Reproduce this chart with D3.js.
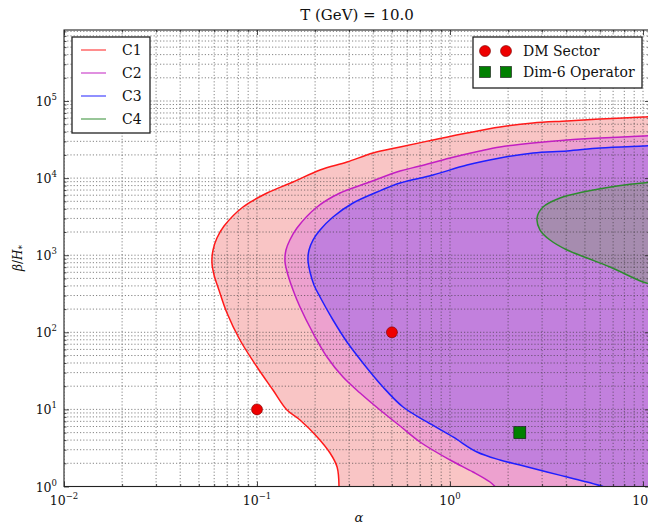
<!DOCTYPE html>
<html>
<head>
<meta charset="utf-8">
<script src="https://cdn.jsdelivr.net/npm/d3@7"></script>
<style>
  body { margin: 0; background: #fff; }
  svg { display: block; }
  text { font-family: "DejaVu Serif", "Liberation Serif", serif; fill: #111; }
</style>
</head>
<body>
<svg id="chart" width="648" height="530"></svg>
<script>
// ---- data -------------------------------------------------------------
const titleText = "T (GeV) = 10.0";
const xDomain = [0.01, 10.87];
const yDomain = [1, 8.34e5];
const xMajorTicks = [0.01, 0.1, 1, 10];
const xTickExponents = ["\u22122", "\u22121", "0", "1"];
const yMajorTicks = [1, 10, 100, 1000, 1e4, 1e5];
const yTickExponents = ["0", "1", "2", "3", "4", "5"];

// contour boundaries, [alpha, beta/H*]
const contourC1 = [[0.266,1],[0.260,1.79],[0.239,2.72],[0.205,4.39],[0.167,7.29],[0.143,9.82],[0.121,17.85],
  [0.100,35.5],[0.0816,79.5],[0.0699,178],[0.0635,354],[0.0599,554],[0.0584,816],[0.0592,1168],[0.0620,1672],
  [0.0675,2391],[0.0846,4220],[0.1127,6410],[0.1537,8900],[0.2121,12740],[0.2925,16170],[0.399,21170],
  [0.551,25320],[0.816,31210],[1.225,38460],[1.815,46010],[2.69,51850],[4.04,55050],[5.99,58440],[10,62030],
  [11,63000]];
const contourC2 = [[1.711,1],[1.612,1.144],[1.316,1.542],[1.0,2.207],[0.699,3.777],[0.551,6.09],[0.434,9.82],
  [0.342,16.32],[0.279,26.3],[0.2305,47.8],[0.195,97.9],[0.167,213],[0.1537,354],[0.1447,554],[0.1397,816],
  [0.1413,1168],[0.148,1574],[0.1611,2253],[0.2046,4220],[0.269,6410],[0.3715,8640],[0.551,12360],[0.699,14350],
  [1.0,18230],[1.43,22470],[1.815,25320],[2.69,28530],[4.04,31210],[5.99,33130],[10,35160],[11,35500]];
const contourC3 = [[6.21,1],[5.13,1.144],[4.04,1.328],[3.18,1.542],[2.305,1.90],[1.815,2.207],[1.38,2.80],
  [1.036,4.39],[0.760,6.87],[0.571,10.74],[0.4495,19.52],[0.354,40.0],[0.2925,74.8],[0.2476,144.4],
  [0.2121,287],[0.1973,411],[0.1882,605],[0.1837,866],[0.186,1168],[0.195,1574],[0.2121,2122],[0.2476,3130],
  [0.3144,4754],[0.4184,6600],[0.551,8640],[0.816,10970],[1.225,14790],[1.815,18230],[2.69,21170],
  [4.04,22470],[5.99,24570],[10,26080],[11,26400]];
const contourC4 = [[11,8900],[10,8640],[7.33,7900],[4.89,6600],[3.715,5520],[3.033,4220],[2.824,3038],
  [2.927,2122],[3.298,1574],[4.04,1168],[5.13,920],[6.75,703],[10,449],[11,420]];

const contourNames = ["C1", "C2", "C3", "C4"];
const lineColors = ["#ff1a1a", "#c21fc2", "#1f1fff", "#2e8b2e"];
const fillColors = ["#f9c5c5", "#eda1cf", "#c281dd", "#a68caf"];

const dmSectorAlpha = [0.1, 0.5];
const dmSectorBeta = [10, 100];
const dim6Alpha = [2.3];
const dim6Beta = [5];

// ---- layout -----------------------------------------------------------
const plot = { left: 64, top: 30, right: 650, bottom: 486.5 };
const svg = d3.select("#chart");
const x = d3.scaleLog().domain(xDomain).range([plot.left, plot.right]);
const y = d3.scaleLog().domain(yDomain).range([plot.bottom, plot.top]);

function minorTicks(lo, hi) {
  const out = [];
  for (let e = Math.floor(Math.log10(lo)); e <= Math.ceil(Math.log10(hi)); e++)
    for (let m = 2; m <= 9; m++) {
      const v = m * Math.pow(10, e);
      if (v > lo && v < hi) out.push(v);
    }
  return out;
}
const xMinor = minorTicks(xDomain[0], xDomain[1]);
const yMinor = minorTicks(yDomain[0], yDomain[1]);

svg.append("defs").append("clipPath").attr("id", "plotClip")
  .append("rect").attr("x", plot.left).attr("y", plot.top)
  .attr("width", plot.right - plot.left).attr("height", plot.bottom - plot.top);

const area = svg.append("g").attr("clip-path", "url(#plotClip)");

const curve = d3.line().x(d => x(d[0])).y(d => y(d[1])).curve(d3.curveCatmullRom.alpha(0.5));
const contours = [contourC1, contourC2, contourC3, contourC4];

// filled regions: C1–C3 open towards the lower right, C4 closes on the right edge
contours.forEach((c, i) => {
  let d = curve(c);
  if (i < 3) d += `L${x(12)},${y(1) + 5}L${x(c[0][0])},${y(1) + 5}Z`;
  else d += "Z";
  area.append("path").attr("d", d).attr("fill", fillColors[i]).attr("stroke", "none");
});

// dotted grid, major and minor
const grid = area.append("g").attr("stroke", "#333").attr("stroke-width", 0.7)
  .attr("stroke-dasharray", "1.2,2").attr("opacity", 0.85);
grid.selectAll(".gx").data(xMajorTicks.concat(xMinor)).join("line")
  .attr("x1", d => x(d)).attr("x2", d => x(d)).attr("y1", plot.top).attr("y2", plot.bottom);
grid.selectAll(".gy").data(yMajorTicks.concat(yMinor)).join("line")
  .attr("y1", d => y(d)).attr("y2", d => y(d)).attr("x1", plot.left).attr("x2", plot.right);

// contour lines
contours.forEach((c, i) => {
  area.append("path").attr("d", curve(c)).attr("fill", "none")
    .attr("stroke", lineColors[i]).attr("stroke-width", 1.5);
});

// benchmark points
area.selectAll(".dm").data(dmSectorAlpha).join("circle")
  .attr("cx", d => x(d)).attr("cy", (d, i) => y(dmSectorBeta[i])).attr("r", 5.5)
  .attr("fill", "#ee0000").attr("stroke", "#700").attr("stroke-width", 0.6);
const sq = 12;
area.selectAll(".d6").data(dim6Alpha).join("rect")
  .attr("x", d => x(d) - sq / 2).attr("y", (d, i) => y(dim6Beta[i]) - sq / 2)
  .attr("width", sq).attr("height", sq)
  .attr("fill", "#008000").attr("stroke", "#111").attr("stroke-width", 0.6);

// axes: inward ticks on all four sides
function styleAxis(g) {
  g.select(".domain").remove();
  g.selectAll("line").attr("stroke", "#222").attr("stroke-width", 0.8);
  g.selectAll("text").remove();
}
[[d3.axisBottom, x, plot.bottom, xMajorTicks, xMinor, "h"],
 [d3.axisTop, x, plot.top, xMajorTicks, xMinor, "h"],
 [d3.axisLeft, y, plot.left, yMajorTicks, yMinor, "v"],
 [d3.axisRight, y, plot.right, yMajorTicks, yMinor, "v"]].forEach(([ax, sc, pos, maj, mnr, dir]) => {
  const tr = dir === "h" ? `translate(0,${pos})` : `translate(${pos},0)`;
  svg.append("g").attr("transform", tr).call(ax(sc).tickValues(maj).tickSize(-5).tickFormat(() => "")).call(styleAxis);
  svg.append("g").attr("transform", tr).call(ax(sc).tickValues(mnr).tickSize(-2.5).tickFormat(() => "")).call(styleAxis);
});

// frame
svg.append("rect").attr("x", plot.left).attr("y", plot.top)
  .attr("width", plot.right - plot.left).attr("height", plot.bottom - plot.top)
  .attr("fill", "none").attr("stroke", "#222").attr("stroke-width", 1.1);

// tick labels with exponents
svg.selectAll(".xtl").data(xMajorTicks).join("text")
  .attr("x", d => x(d)).attr("y", 505).attr("text-anchor", "middle").attr("font-size", 12.5)
  .each(function (d, i) {
    const t = d3.select(this);
    t.append("tspan").text("10");
    t.append("tspan").attr("dy", -6).attr("font-size", 8.5).text(xTickExponents[i]);
  });
svg.selectAll(".ytl").data(yMajorTicks).join("text")
  .attr("x", 57).attr("y", d => y(d) + 5).attr("text-anchor", "end").attr("font-size", 12.5)
  .each(function (d, i) {
    const t = d3.select(this);
    t.append("tspan").text("10");
    t.append("tspan").attr("dy", -6).attr("font-size", 8.5).text(yTickExponents[i]);
  });

// title and axis labels
svg.append("text").attr("x", (plot.left + plot.right) / 2).attr("y", 20)
  .attr("text-anchor", "middle").attr("font-size", 15).text(titleText);
svg.append("text").attr("x", (plot.left + plot.right) / 2 + 2).attr("y", 522)
  .attr("text-anchor", "middle").attr("font-size", 13).attr("font-style", "italic").text("\u03b1");
const yl = svg.append("text").attr("transform", "translate(22,258) rotate(-90)")
  .attr("text-anchor", "middle").attr("font-size", 12);
yl.append("tspan").attr("font-style", "italic").text("\u03b2");
yl.append("tspan").text("/");
yl.append("tspan").attr("font-style", "italic").text("H");
yl.append("tspan").attr("dy", 3).attr("font-size", 9).text("*");

// legend: contours
const lg1 = svg.append("g");
lg1.append("rect").attr("x", 72).attr("y", 37).attr("width", 78).attr("height", 96)
  .attr("fill", "#fff").attr("stroke", "#222").attr("stroke-width", 1.3);
contourNames.forEach((n, i) => {
  const cy = 50 + i * 23;
  lg1.append("line").attr("x1", 81).attr("x2", 106).attr("y1", cy).attr("y2", cy)
    .attr("stroke", lineColors[i]).attr("stroke-width", 1.4).attr("opacity", 0.7);
  lg1.append("text").attr("x", 122).attr("y", cy + 5).attr("font-size", 14).text(n);
});

// legend: benchmark points
const lg2 = svg.append("g");
lg2.append("rect").attr("x", 473).attr("y", 37).attr("width", 169).attr("height", 51)
  .attr("fill", "#fff").attr("stroke", "#222").attr("stroke-width", 1.3);
[485, 506].forEach(cx => {
  lg2.append("circle").attr("cx", cx).attr("cy", 51).attr("r", 5.5)
    .attr("fill", "#ee0000").attr("stroke", "#700").attr("stroke-width", 0.6);
  lg2.append("rect").attr("x", cx - 5.5).attr("y", 72 - 5.5).attr("width", 11).attr("height", 11)
    .attr("fill", "#008000").attr("stroke", "#111").attr("stroke-width", 0.6);
});
lg2.append("text").attr("x", 523).attr("y", 56).attr("font-size", 14).text("DM Sector");
lg2.append("text").attr("x", 523).attr("y", 77).attr("font-size", 14).text("Dim-6 Operator");
</script>
</body>
</html>
